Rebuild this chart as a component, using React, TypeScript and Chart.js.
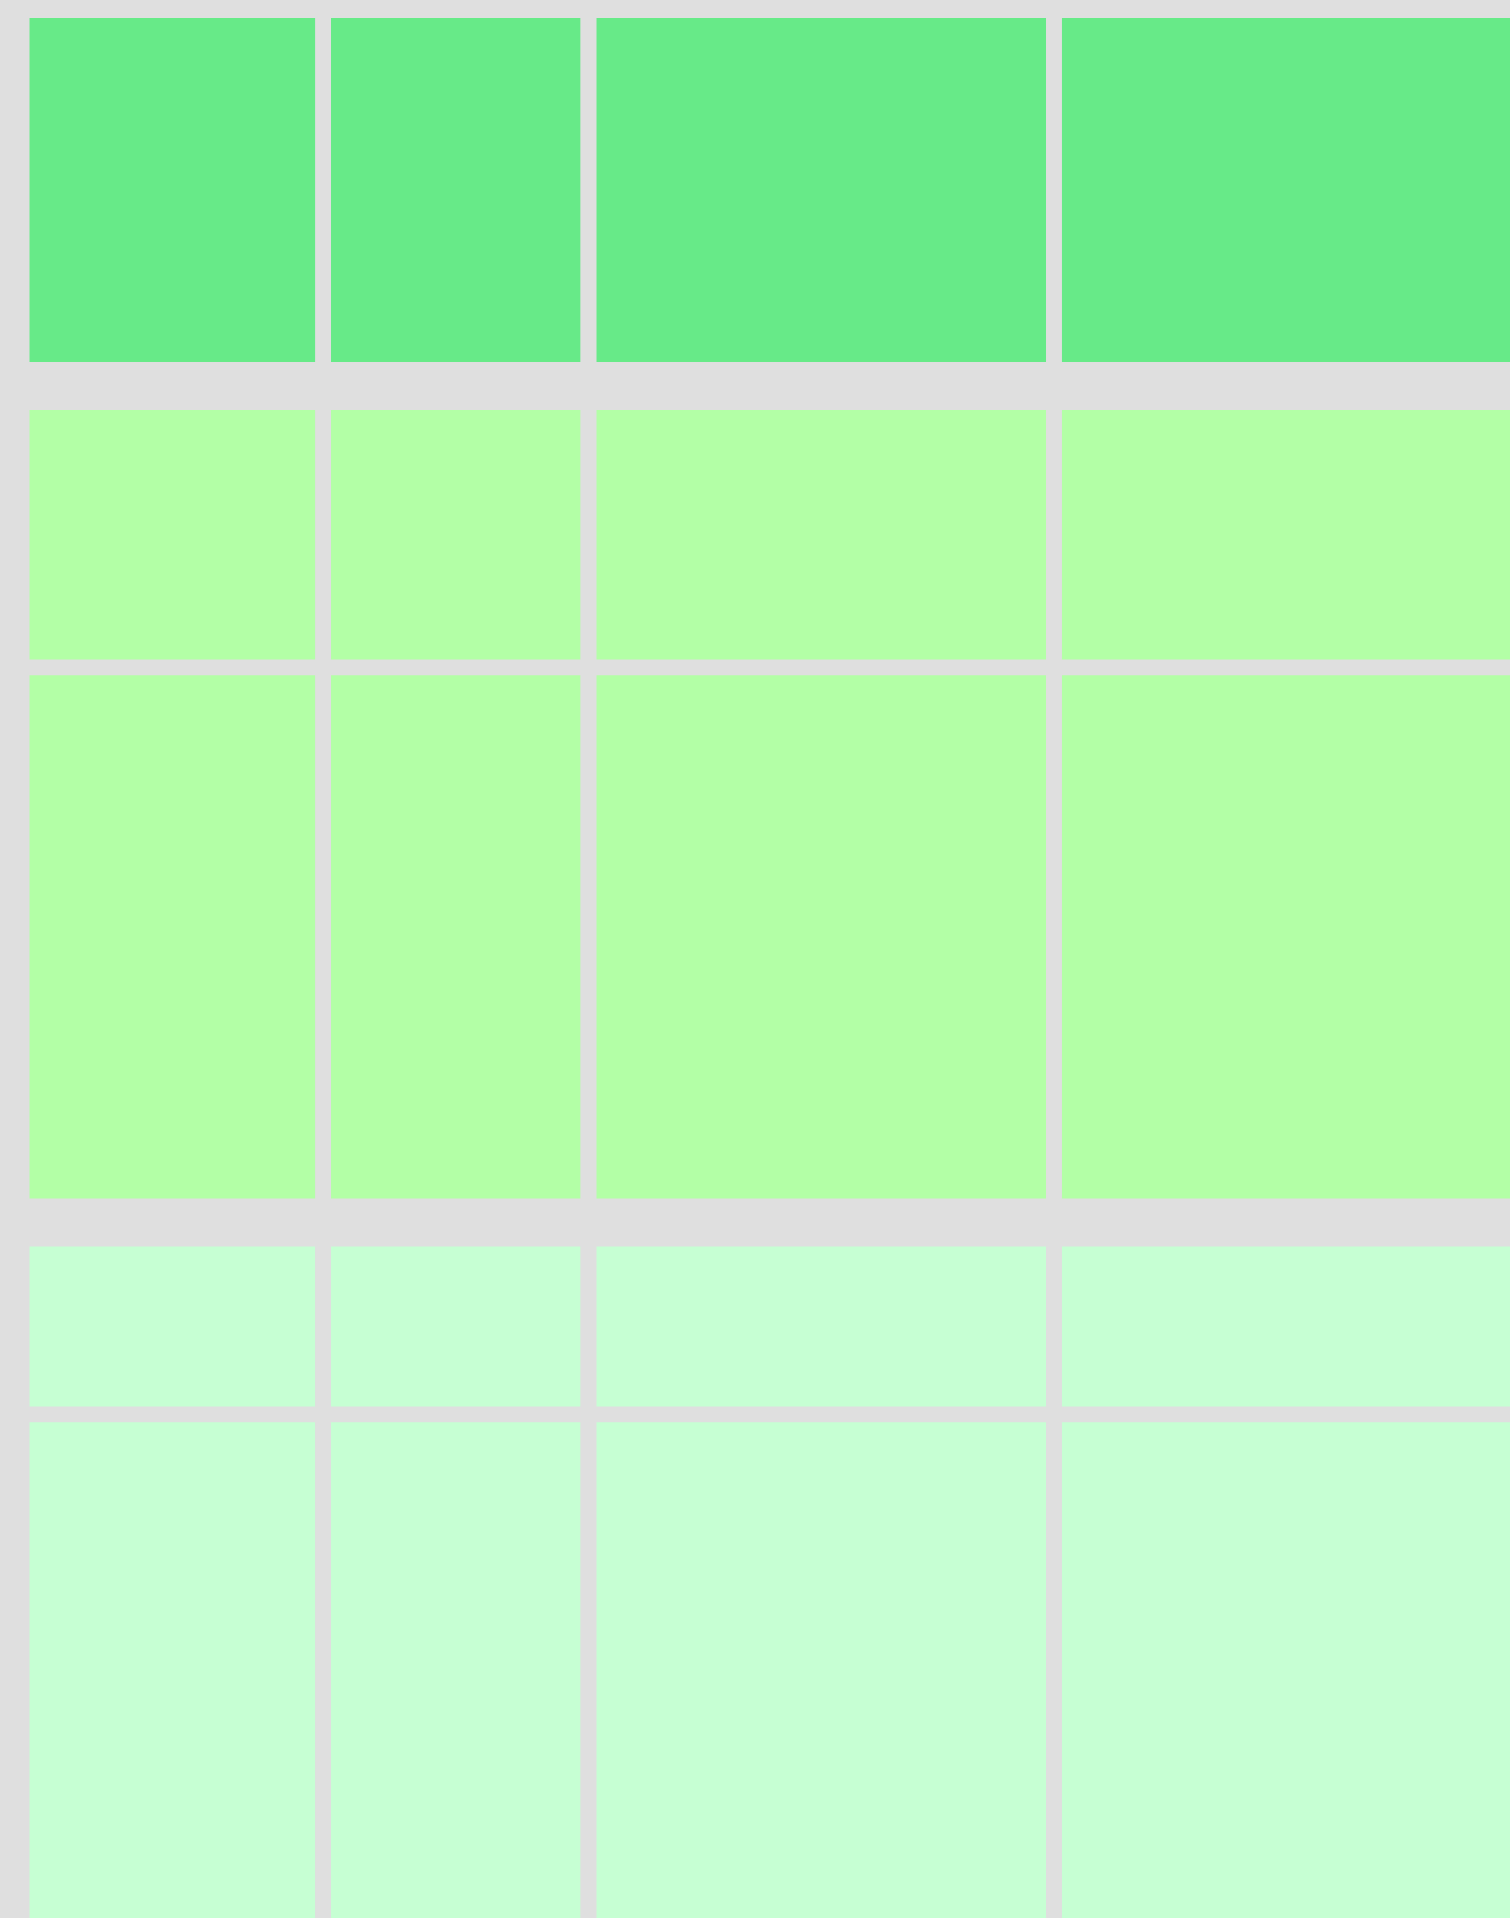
import React, { useEffect, useRef } from "react";
import { Chart, registerables } from "chart.js";

Chart.register(...registerables);

// Mosaic values (column shares and row shares per band)
const columnNames = ["Column A", "Column B", "Column C", "Column D"];
const columnSizes = [286, 249.6, 449.8, 470];
const bandNames = ["Band 1", "Band 2", "Band 3"];
const band1Rows = [344];
const band2Rows = [249.5, 523.3];
const band3Rows = [160, 520];
const bandColors = ["#67EA88", "#B3FFA6", "#C6FFD3"];

const CANVAS_W = 1510;
const CANVAS_H = 1918;
const ORIGIN_X = 29.3;
const ORIGIN_Y = 18;
const CELL_GAP = 15.7;
const BAND_GAP = 48;

export default function App() {
  const ref = useRef<HTMLCanvasElement | null>(null);

  useEffect(() => {
    if (!ref.current) return;
    const bands = [band1Rows, band2Rows, band3Rows];
    const datasets: any[] = [];
    let y = ORIGIN_Y;
    bands.forEach((rows, b) => {
      rows.forEach((h, r) => {
        let x = ORIGIN_X;
        columnSizes.forEach((w, c) => {
          datasets.push({
            label: `${bandNames[b]} / row ${r + 1} / ${columnNames[c]}`,
            data: [
              { x: x, y: y },
              { x: x + w, y: y },
            ],
            fill: { value: y + h },
            backgroundColor: bandColors[b],
            borderColor: bandColors[b],
            borderWidth: 0,
            pointRadius: 0,
            tension: 0,
          });
          x += w + CELL_GAP;
        });
        y += h + CELL_GAP;
      });
      y += BAND_GAP - CELL_GAP;
    });

    const chart = new Chart(ref.current, {
      type: "line",
      data: { datasets },
      options: {
        animation: false,
        responsive: false,
        maintainAspectRatio: false,
        layout: { padding: 0 },
        plugins: {
          legend: { display: false },
          tooltip: { enabled: false },
          title: { display: false },
        },
        scales: {
          x: { type: "linear", min: 0, max: CANVAS_W, display: false },
          y: { type: "linear", min: 0, max: CANVAS_H, reverse: true, display: false },
        },
      },
    });
    return () => chart.destroy();
  }, []);

  return (
    <div
      style={{
        position: "fixed",
        left: 0,
        top: 0,
        width: CANVAS_W,
        height: CANVAS_H,
        overflow: "hidden",
        background: "#DFDFDF",
      }}
    >
      <canvas ref={ref} width={CANVAS_W} height={CANVAS_H} style={{ display: "block" }} />
    </div>
  );
}
